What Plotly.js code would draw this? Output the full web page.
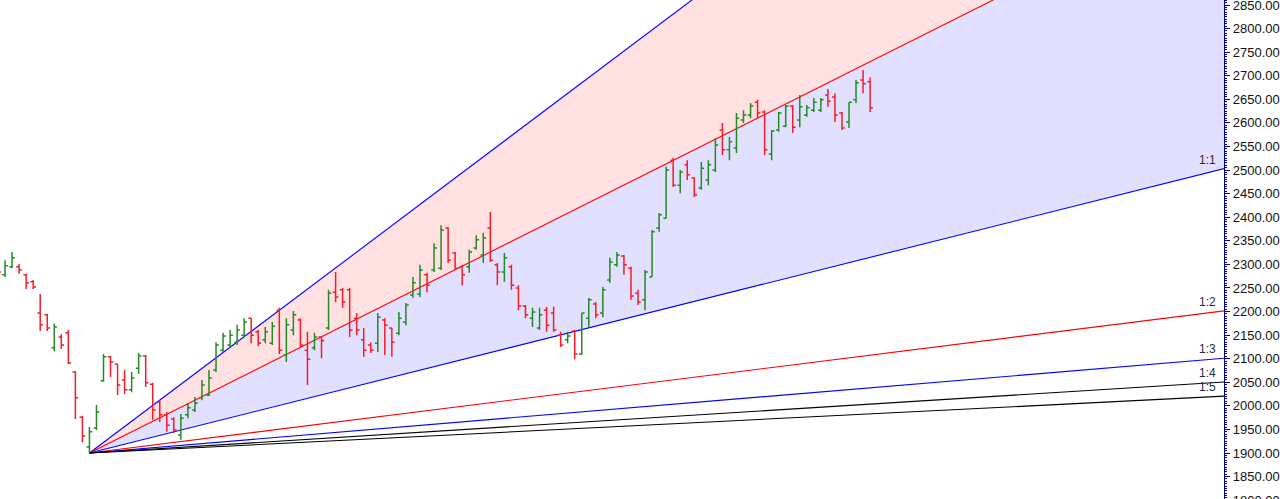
<!DOCTYPE html>
<html>
<head>
<meta charset="utf-8">
<script src="https://cdn.plot.ly/plotly-3.0.1.min.js"></script>
<style>
html,body{margin:0;padding:0;width:1280px;height:499px;overflow:hidden;background:#fff;}
#wrap{position:relative;width:1280px;height:499px;overflow:hidden;}
#chart{position:absolute;left:0;top:0;width:1280px;height:512px;}
</style>
</head>
<body>
<div id="wrap"><div id="chart"></div></div>
<script>
// ---- OHLC data (bar index, prices) ----
const barIndex = Array.from({length:125},(_,i)=>i);
const openP  = [2290,2278,2295,2295,2278,2263,2197,2193,2123,2146,2155,2072,1976,1913,1953,2053,2104,2089,2055,2034,2080,2106,2046,2008,1981,1972,1938,1981,1991,2017,2023,2076,2118,2129,2135,2150,2186,2157,2140,2133,2203,2108,2161,2182,2118,2123,2146,2165,2241,2246,2246,2186,2140,2129,2133,2182,2165,2154,2178,2235,2237,2278,2288,2292,2377,2324,2295,2295,2335,2320,2377,2299,2284,2295,2250,2212,2186,2165,2203,2197,2150,2140,2159,2110,2186,2216,2197,2267,2299,2318,2292,2239,2225,2273,2377,2398,2521,2468,2511,2483,2462,2479,2500,2585,2543,2547,2606,2617,2644,2623,2534,2585,2593,2636,2606,2617,2627,2627,2659,2655,2621,2602,2649,2691,2687];
const highP  = [2297,2309,2326,2301,2280,2267,2237,2195,2174,2152,2161,2074,1979,1955,2002,2110,2106,2089,2076,2072,2112,2108,2049,2012,1987,1976,1983,2006,2019,2055,2076,2135,2155,2161,2172,2186,2186,2161,2167,2178,2208,2186,2201,2186,2157,2155,2146,2246,2284,2250,2250,2197,2165,2135,2197,2186,2165,2199,2218,2273,2299,2282,2345,2383,2379,2326,2299,2331,2362,2367,2411,2303,2324,2299,2256,2214,2208,2208,2210,2210,2157,2157,2161,2197,2229,2220,2252,2314,2326,2320,2295,2246,2288,2373,2409,2507,2526,2500,2521,2485,2517,2521,2568,2600,2570,2621,2627,2642,2649,2627,2585,2623,2638,2638,2659,2638,2653,2653,2672,2663,2623,2644,2691,2712,2697];
const lowP   = [2277,2273,2292,2280,2248,2248,2159,2159,2116,2121,2089,1972,1923,1900,1949,2051,2061,2023,2025,2029,2068,2040,1970,1966,1945,1942,1928,1974,1987,2012,2021,2072,2114,2123,2129,2146,2133,2127,2133,2129,2110,2093,2150,2123,2044,2118,2101,2161,2220,2208,2146,2150,2104,2112,2114,2108,2104,2150,2171,2229,2231,2241,2284,2288,2303,2288,2256,2282,2331,2303,2305,2256,2263,2246,2203,2186,2167,2161,2157,2157,2125,2133,2099,2108,2167,2186,2188,2261,2295,2278,2225,2214,2203,2273,2369,2398,2464,2451,2479,2443,2458,2468,2496,2532,2521,2536,2600,2610,2610,2532,2521,2581,2591,2579,2591,2613,2623,2623,2634,2602,2585,2589,2642,2663,2623];
const closeP = [2284,2297,2314,2288,2261,2252,2172,2165,2167,2129,2091,2017,1936,1945,1987,2104,2093,2044,2034,2059,2106,2049,1991,1981,1959,1949,1974,1996,2006,2044,2059,2129,2148,2150,2161,2178,2150,2133,2157,2169,2118,2172,2193,2129,2099,2146,2138,2239,2231,2220,2161,2161,2118,2118,2188,2171,2135,2186,2214,2261,2288,2256,2335,2373,2309,2292,2278,2326,2352,2356,2309,2284,2314,2256,2212,2193,2199,2193,2171,2161,2129,2148,2110,2197,2225,2193,2246,2305,2320,2299,2233,2220,2284,2369,2405,2500,2468,2496,2490,2447,2504,2511,2553,2543,2560,2610,2617,2636,2621,2543,2583,2621,2636,2591,2634,2632,2644,2649,2646,2617,2589,2644,2685,2683,2632];

// ---- Gann fan parameters ----
const pivotIndex = 13;
const pivotPrice = 1900;
const pricePerBar = 3.738;
const fanRatios = [3, 2, 1, 1/2, 1/3, 1/4, 1/5];
const fanLabels = ['3:1','2:1','1:1','1:2','1:3','1:4','1:5'];
const fanColors = ['#0000ff','#ff0000','#0000ff','#ff0000','#0000ff','#000000','#000000'];
const fanFills  = [null,'#ffe1e1','#e1e1ff',null,null,null,null];
const showLabel = [false,false,true,true,true,true,true];

const xMin = 0.284, xMax = 174.32;
const yTop = 2860.6, unitsPerPx = 2.1204;
const yBottom = yTop - 512*unitsPerPx;

const traces = [];
const fanEnd = 185;
fanRatios.forEach((r,i)=>{
  const t = {
    type:'scatter', mode:'lines',
    x:[pivotIndex, fanEnd],
    y:[pivotPrice, pivotPrice + r*pricePerBar*(fanEnd-pivotIndex)],
    line:{color:fanColors[i], width:1.1},
    hoverinfo:'skip', showlegend:false
  };
  if (fanFills[i]) { t.fill='tonexty'; t.fillcolor=fanFills[i]; }
  traces.push(t);
});
traces.push({
  type:'ohlc', x:barIndex, open:openP, high:highP, low:lowP, close:closeP,
  xaxis:'x2', yaxis:'y2',
  increasing:{line:{color:'#248a24', width:1.5}},
  decreasing:{line:{color:'#f51c2a', width:1.5}},
  tickwidth:0.4, hoverinfo:'skip', showlegend:false
});

const annotations = [];
fanRatios.forEach((r,i)=>{
  if(!showLabel[i]) return;
  annotations.push({
    xref:'paper', x:0.995, xanchor:'right',
    yref:'y', y: pivotPrice + r*pricePerBar*(xMax-pivotIndex), yanchor:'bottom',
    text:fanLabels[i], showarrow:false,
    font:{family:'Liberation Sans, Arial, sans-serif', size:12, color:'#2a2a40'},
    yshift:0
  });
});

const layout = {
  width:1280, height:512,
  margin:{l:0, r:56, t:0, b:0, pad:0},
  paper_bgcolor:'#ffffff', plot_bgcolor:'#ffffff',
  showlegend:false,
  xaxis:{range:[xMin,xMax], visible:false, fixedrange:true},
  xaxis2:{range:[xMin,xMax], visible:false, overlaying:'x', rangeslider:{visible:false}, fixedrange:true},
  yaxis2:{range:[yBottom, yTop], visible:false, overlaying:'y', side:'right', fixedrange:true},
  yaxis:{
    range:[yBottom, yTop], side:'right', showgrid:false, zeroline:false,
    showline:true, linecolor:'#000080', linewidth:1.2,
    ticks:'outside', ticklen:5, tickcolor:'#000080', tickwidth:1,
    dtick:50, tick0:0, tickformat:'.2f', ticklabeloverflow:'allow',
    tickfont:{family:'Liberation Sans, Arial, sans-serif', size:13, color:'#111111'},
    minor:{dtick:5, ticks:'outside', ticklen:2, tickcolor:'#000080', showgrid:false},
    fixedrange:true
  },
  annotations: annotations
};
Plotly.newPlot('chart', traces, layout, {displayModeBar:false, staticPlot:true});
</script>
</body>
</html>
